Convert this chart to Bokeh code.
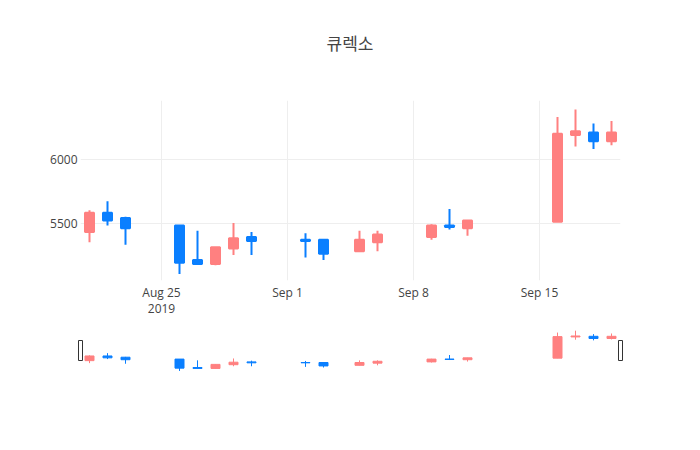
import pandas as pd
from bokeh.plotting import figure
from bokeh.models import Range1d, FixedTicker, ColumnDataSource, Div
from bokeh.embed import file_html
from bokeh.resources import INLINE

# ---- data ----
dates = ["2019-08-21", "2019-08-22", "2019-08-23", "2019-08-26", "2019-08-27",
         "2019-08-28", "2019-08-29", "2019-08-30", "2019-09-02", "2019-09-03",
         "2019-09-05", "2019-09-06", "2019-09-09", "2019-09-10", "2019-09-11",
         "2019-09-16", "2019-09-17", "2019-09-18", "2019-09-19"]
opens = [5430, 5580, 5540, 5480, 5210, 5180, 5300, 5390, 5370, 5370,
         5280, 5350, 5390, 5480, 5460, 5510, 6190, 6210, 6140]
highs = [5600, 5670, 5550, 5480, 5440, 5310, 5500, 5430, 5420, 5370,
         5440, 5440, 5490, 5610, 5520, 6330, 6390, 6280, 6300]
lows = [5350, 5480, 5330, 5100, 5180, 5170, 5250, 5250, 5230, 5210,
        5280, 5280, 5370, 5450, 5400, 5510, 6100, 6080, 6110]
closes = [5580, 5520, 5460, 5190, 5180, 5310, 5380, 5360, 5360, 5260,
          5370, 5410, 5480, 5470, 5520, 6200, 6220, 6140, 6210]

title_text = "큐렉소"
x_tick_dates = ["2019-08-25", "2019-09-01", "2019-09-08", "2019-09-15"]
x_tick_labels = ["Aug 25\n2019", "Sep 1", "Sep 8", "Sep 15"]
y_ticks = [5000, 5500, 6000, 6500]

INC = "#FF8080"
DEC = "#0A7FFF"
FONT = "Open Sans"
TXT = "#444444"

df = pd.DataFrame(dict(date=pd.to_datetime(dates), open=opens, high=highs,
                       low=lows, close=closes))
df["top"] = df[["open", "close"]].max(axis=1)
df["bottom"] = df[["open", "close"]].min(axis=1)
df["color"] = [INC if c >= o else DEC for o, c in zip(df.open, df.close)]
src = ColumnDataSource(df)

x_start = pd.Timestamp("2019-08-20 12:00")
x_end = pd.Timestamp("2019-09-19 12:00")
xr = Range1d(x_start, x_end)
yr = Range1d(5050, 6460)
body_w = 0.5 * 86400000

W = 700

# ---- title ----
title_div = Div(
    text=('<div style="padding-top:31px;text-align:center;'
          "font-family:'Noto Sans CJK KR';font-size:17px;color:#444444;"
          'line-height:24px;width:700px">' + title_text + '</div>'),
    width=W, height=70, margin=0)

# ---- main chart ----
p = figure(width=W, height=256, x_axis_type="datetime", x_range=xr, y_range=yr,
           output_backend="svg", toolbar_location=None,
           min_border_left=80, min_border_right=80, min_border_top=30,
           min_border_bottom=46)
p.outline_line_color = None

p.segment(x0="date", y0="low", x1="date", y1="high", color="color",
          line_width=2, source=src)
p.vbar(x="date", width=body_w, top="top", bottom="bottom", fill_color="color",
       line_color="color", line_width=2, source=src)

tick_ms = [int(pd.Timestamp(d).value // 10**6) for d in x_tick_dates]
p.xaxis.ticker = FixedTicker(ticks=tick_ms)
p.xaxis.major_label_overrides = {ms: lab for ms, lab in zip(tick_ms, x_tick_labels)}
p.yaxis.ticker = FixedTicker(ticks=y_ticks)
p.xgrid.ticker = FixedTicker(ticks=tick_ms)
p.ygrid.ticker = FixedTicker(ticks=y_ticks)
for ax in p.axis:
    ax.axis_label = None
    ax.axis_line_color = None
    ax.major_tick_line_color = None
    ax.minor_tick_line_color = None
    ax.major_tick_out = 0
    ax.major_tick_in = 0
    ax.major_label_text_font = FONT
    ax.major_label_text_font_size = "12px"
    ax.major_label_text_color = TXT
    ax.major_label_text_line_height = 0.95
p.yaxis.major_label_standoff = 3
p.xaxis.major_label_standoff = 3
p.xgrid.grid_line_color = "#eeeeee"
p.ygrid.grid_line_color = "#eeeeee"

# ---- range slider (separate root so its frame is not aligned) ----
pad = pd.Timedelta(hours=24 * 4 / 18)
xr2 = Range1d(x_start - pad, x_end + pad)
s = figure(width=W, height=50, x_axis_type="datetime", x_range=xr2,
           y_range=Range1d(yr.start, yr.end), output_backend="svg",
           toolbar_location=None, min_border_left=76, min_border_right=76,
           min_border_top=2, min_border_bottom=4)
s.axis.visible = False
s.grid.visible = False
s.outline_line_color = None
s.segment(x0="date", y0="low", x1="date", y1="high", color="color",
          line_width=1, source=src)
s.vbar(x="date", width=body_w, top="top", bottom="bottom", fill_color="color",
       line_color="color", line_width=1, source=src)
s.rect(x=[x_start, x_end], y=[(yr.start + yr.end) / 2] * 2, width=4, height=20,
       width_units="screen", height_units="screen", fill_color="white",
       line_color="#333333", line_width=1)

open("out.html", "w").write(file_html([title_div, p, s], INLINE))
